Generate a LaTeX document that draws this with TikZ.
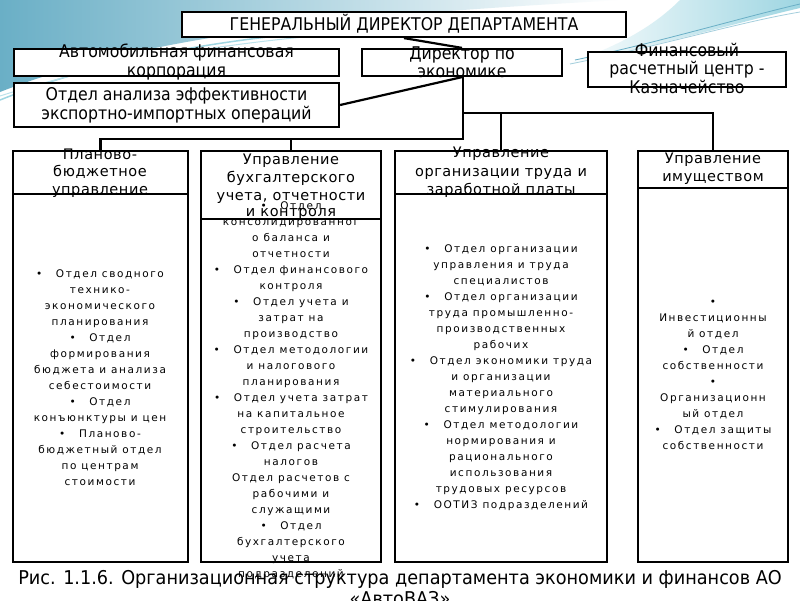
\documentclass[tikz,border=0pt]{standalone}
\usepackage{fontspec}
\setmainfont{DejaVu Sans}
\newfontfamily\bodyf[LetterSpace=15]{DejaVu Sans}
\newfontfamily\headf[LetterSpace=4]{DejaVu Sans}
\newfontfamily\condf[FakeStretch=0.9]{DejaVu Sans}
\newfontfamily\capf[FakeStretch=0.93]{DejaVu Sans}
\definecolor{teal1}{HTML}{6AAFC6}
\definecolor{teal2}{HTML}{9FD6E2}
\newcommand{\bul}{\textbullet\hspace{1.3em}}
\begin{document}
\begin{tikzpicture}[x=1pt,y=-1pt,
  box/.style={draw=black,line width=2.2pt,fill=white,inner sep=0pt},
  conn/.style={draw=black,line width=2.2pt},
  toptext/.style={font=\condf\fontsize{17.5}{18.5}\selectfont,align=center,inner sep=0pt},
  headtext/.style={font=\headf\fontsize{14.5}{18}\selectfont,align=center,inner sep=0pt},
  bodytext/.style={font=\bodyf\fontsize{10.5}{16}\selectfont,align=center,inner sep=0pt}]
\useasboundingbox (0,0) rectangle (800,600);
\fill[white] (0,0) rectangle (800,600);
% background decoration
\shade[left color=teal1,middle color=teal1!75,right color=white] (0,0) -- (620,0) .. controls (420,12) and (170,25) .. (0,92) -- cycle;
\draw[teal2,line width=1.5pt] (0,100) .. controls (150,40) and (330,25) .. (560,18);
\draw[teal2!70,line width=1pt] (0,96) .. controls (160,45) and (330,30) .. (520,24);
\shade[left color=white,right color=teal2] (560,66) .. controls (650,48) and (740,22) .. (800,8) -- (800,0) -- (680,0) .. controls (650,30) and (610,50) .. (560,66) -- cycle;
\draw[teal1,line width=0.8pt] (575,60) .. controls (660,42) and (740,18) .. (800,4);
\draw[teal1!60,line width=0.8pt] (570,64) .. controls (660,46) and (740,22) .. (800,12);

% top boxes
\node[box,minimum width=444,minimum height=25] (gen) at (404,24.5) {};
\node[toptext] (gent) at (404,24) {ГЕНЕРАЛЬНЫЙ ДИРЕКТОР ДЕПАРТАМЕНТА};
\node[box,minimum width=325,minimum height=27] (avto) at (176.5,62.5) {};
\node[toptext] (avtot) at (176.5,62) {Автомобильная финансовая\\корпорация};
\node[box,minimum width=200,minimum height=27] (dir) at (462,62.5) {};
\node[toptext] (dirt) at (462,62) {Директор по\\экономике};
\node[box,minimum width=198,minimum height=35] (fin) at (687,69.5) {};
\node[toptext] (fint) at (687,68) {Финансовый\\расчетный центр -\\Казначейство};
\node[box,minimum width=325,minimum height=44] (otd) at (176.5,105) {};
\node[toptext] (otdt) at (176.5,105.5) {Отдел анализа эффективности\\экспортно-импортных операций};

% columns: headers and bodies
\node[box,minimum width=175,minimum height=43] (h1) at (100.5,172.5) {};
\node[box,minimum width=175,minimum height=368] (b1) at (100.5,378) {};
\node[box,minimum width=180,minimum height=68] (h2) at (291,185) {};
\node[box,minimum width=180,minimum height=343] (b2) at (291,390.5) {};
\node[box,minimum width=212,minimum height=43] (h3) at (501,172.5) {};
\node[box,minimum width=212,minimum height=368] (b3) at (501,378) {};
\node[box,minimum width=150,minimum height=37] (h4) at (713,169.5) {};
\node[box,minimum width=150,minimum height=374] (b4) at (713,375) {};

% connectors
\draw[conn] (gen.south) -- (dir.north);
\draw[conn] (otd.east) -- (dir.south);
\coordinate (j1) at (463,139);
\coordinate (j2) at (463,113);
\draw[conn] (dir.south -| j1) -- (j1) -| (h1.north);
\draw[conn] (h2.north) -- (h2.north |- j1);
\draw[conn] (j2) -| (h4.north);
\draw[conn] (h3.north) -- (h3.north |- j2);

% header texts
\node[headtext] (h1t) at (100,173) {Планово-\\[-0.5pt]бюджетное\\[-0.5pt]управление};
\node[headtext] (h2t) at (291,187) {Управление\\бухгалтерского\\учета, отчетности\\[-2pt]и контроля};
\node[headtext] (h3t) at (501,172) {Управление\\[1pt]организации труда и\\заработной платы};
\node[headtext] (h4t) at (713,169) {Управление\\имуществом};

% body texts
\node[bodytext] (b1t) at (100,378) {\bul Отдел сводного\\технико-\\экономического\\планирования\\\bul Отдел\\формирования\\бюджета и анализа\\себестоимости\\\bul Отдел\\конъюнктуры и цен\\\bul Планово-\\бюджетный отдел\\по центрам\\стоимости};
\node[bodytext] (b2t) at (291,391) {\bul Отдел\\консолидированног\\о баланса и\\отчетности\\\bul Отдел финансового\\контроля\\\bul Отдел учета и\\затрат на\\производство\\\bul Отдел методологии\\и налогового\\планирования\\\bul Отдел учета затрат\\на капитальное\\строительство\\\bul Отдел расчета\\налогов\\Отдел расчетов с\\рабочими и\\служащими\\\bul Отдел\\бухгалтерского\\учета\\подразделений};
\node[bodytext] (b3t) at (501,378) {\bul Отдел организации\\управления и труда\\специалистов\\\bul Отдел организации\\труда промышленно-\\производственных\\рабочих\\\bul Отдел экономики труда\\и организации\\материального\\стимулирования\\\bul Отдел методологии\\нормирования и\\рационального\\использования\\трудовых ресурсов\\\bul ООТИЗ подразделений};
\node[bodytext] (b4t) at (713,375) {\textbullet\\Инвестиционны\\й отдел\\\bul Отдел\\собственности\\\textbullet\\Организационн\\ый отдел\\\bul Отдел защиты\\собственности};

% caption
\node[font=\capf\fontsize{19}{21}\selectfont,align=center,inner sep=0pt,anchor=north] (cap) at (400,570) {Рис. 1.1.6. Организационная структура департамента экономики и финансов АО\\«АвтоВАЗ»};
\end{tikzpicture}
\end{document}
